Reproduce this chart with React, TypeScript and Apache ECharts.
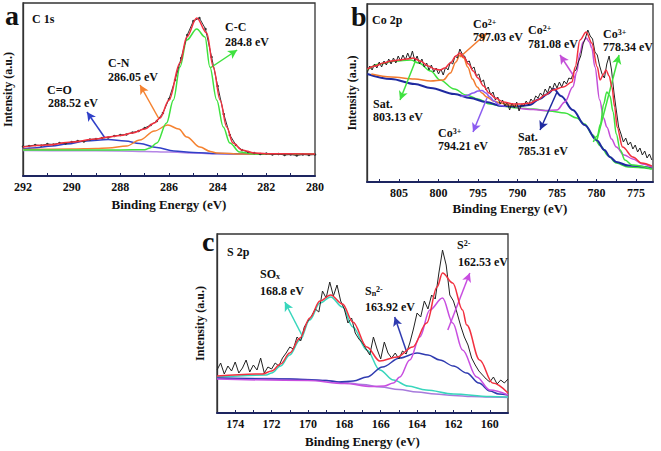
import React, { useEffect, useRef } from 'react';
import * as echarts from 'echarts';

const FONT = "'Liberation Serif', 'Times New Roman', serif";

// ---------- axis ticks ----------
const aLabelVals = [280, 282, 284, 286, 288, 290, 292];
const aTickVals = [281, 282, 283, 284, 285, 286, 287, 288, 289, 290, 291];
const bLabelVals = [775, 780, 785, 790, 795, 800, 805];
const bTickVals = [775, 777.5, 780, 782.5, 785, 787.5, 790, 792.5, 795, 797.5, 800, 802.5, 805, 807.5];
const cLabelVals = [160, 162, 164, 166, 168, 170, 172, 174];
const cTickVals = [160, 161, 162, 163, 164, 165, 166, 167, 168, 169, 170, 171, 172, 173, 174];

// ---------- panel a : C 1s ----------
const aRaw: number[][] = [[292,29.5],[291.75,30],[291.5,31],[291.25,30.5],[291,32],[290.75,31.5],[290.5,33],[290.25,32.5],[290,34],[289.75,35],[289.5,34.5],[289.25,36.5],[289,37],[288.75,38],[288.5,38.5],[288.25,40],[288,41],[287.75,41.5],[287.5,43.5],[287.25,45],[287,48],[286.75,51],[286.5,55],[286.25,63],[286,77],[285.75,96],[285.5,118],[285.25,141],[285,155],[284.75,158],[284.5,147],[284.25,119],[284,90],[283.75,62],[283.5,41],[283.25,31],[283,26],[282.75,24],[282.5,23],[282.25,22],[282,22.5],[281.75,21.5],[281.5,22],[281.25,21],[281,21.5],[280.75,20.5],[280.5,21.5],[280.25,21],[280,21.5]];
const aEnvelope: number[][] = [[292,29],[291,31],[290,34],[289,37],[288.5,39],[288,40.5],[287.5,43],[287,47],[286.6,53],[286.37,58],[286,76],[285.55,113],[285.27,139],[284.86,158],[284.45,143],[284.18,109],[283.9,76],[283.63,49],[283.37,33],[283,26],[282.5,23],[282,22.3],[280,22]];
const aCC: number[][] = [[292,26],[288,26],[287,26.3],[286.78,28],[286.5,33],[286.1,53],[285.82,76],[285.55,109],[285.27,136],[284.86,147],[284.52,139],[284.32,109],[284.04,76],[283.77,49],[283.5,33],[283.1,24],[282.5,22],[280,21.8]];
const aCN: number[][] = [[292,26.5],[290,27],[289,27.5],[288.5,28],[287.74,30],[287.2,36],[286.6,45],[286.05,51],[285.6,47],[285.27,39],[284.73,29],[284.3,24.5],[284.04,23],[283,22],[280,21.8]];
const aCO: number[][] = [[292,27],[291.6,28],[290.8,30],[290.2,32],[289.4,35],[288.5,36.5],[287.8,35],[287.2,32.5],[286.5,28.5],[285.8,25],[285,23.5],[284,22.5],[282,22],[280,21.8]];
const aBackground: number[][] = [[292,25.5],[290,25.3],[288,25],[287,24.6],[286,24],[285,23],[284,22.2],[283,21.9],[280,21.7]];
const aArrows = [
  { from: [288.63, 38], to: [289.37, 64] },
  { from: [286.41, 57], to: [287.19, 91] },
  { from: [284.31, 108], to: [283.2, 126] },
];

// ---------- panel b : Co 2p ----------
const bRaw: number[][] = [[809.0,110],[808.7,116],[808.4,112],[808.1,118],[807.8,114],[807.5,120],[807.2,115],[806.9,121],[806.6,117],[806.3,123],[806.0,118],[805.7,124],[805.4,119],[805.1,126],[804.8,121],[804.5,127],[804.2,122],[803.9,129],[803.6,123],[803.3,131],[803.0,121],[802.7,126],[802.4,118],[802.1,123],[801.8,115],[801.5,119],[801.2,112],[800.9,117],[800.6,110],[800.3,114],[800.0,108],[799.7,113],[799.4,107],[799.1,115],[798.8,112],[798.5,120],[798.2,118],[797.9,126],[797.6,124],[797.3,133],[797.0,128],[796.7,126],[796.4,120],[796.1,121],[795.8,113],[795.5,115],[795.2,106],[794.9,108],[794.6,100],[794.3,102],[794.0,92],[793.7,95],[793.4,87],[793.1,90],[792.8,82],[792.5,85],[792.2,78],[791.9,82],[791.6,76],[791.3,80],[791.0,72],[790.7,79],[790.4,74],[790.1,80],[789.8,71],[789.5,78],[789.2,76],[788.9,81],[788.6,77],[788.3,83],[788.0,80],[787.7,86],[787.4,84],[787.1,89],[786.8,86],[786.5,93],[786.2,89],[785.9,96],[785.6,92],[785.3,99],[785.0,94],[784.7,100],[784.4,95],[784.1,101],[783.8,98],[783.5,104],[783.2,103],[782.9,110],[782.6,112],[782.3,120],[782.0,126],[781.7,138],[781.4,144],[781.1,152],[780.8,146],[780.5,143],[780.2,130],[779.9,127],[779.6,116],[779.3,108],[779.0,104],[778.7,118],[778.4,126],[778.1,112],[777.8,90],[777.5,72],[777.2,55],[776.9,48],[776.6,40],[776.3,44],[776.0,37],[775.7,40],[775.4,33],[775.1,37],[774.8,30],[774.5,34],[774.2,27],[773.9,31],[773.6,24],[773.3,28],[773.0,22]];
const bEnvelope: number[][] = [[809,113],[808,116],[807,119],[806,121],[805,122],[804,123],[803.2,124],[802.3,121],[801.3,116],[800.5,113],[799.8,112],[799.2,114],[798.5,119],[797.8,126],[797.3,129],[796.8,125],[796.2,118],[795.6,111],[795,104],[794.3,96],[793.6,89],[792.8,84],[791.8,80],[790.5,78],[789.5,78],[788.4,79],[787.5,82],[786.5,87],[785.5,92],[784.2,95],[783.1,100],[782.7,115],[782.1,142],[781.3,150],[780.6,139],[779.9,115],[779.55,102],[779.1,108],[778.8,112],[778.4,106],[778.05,95],[777.7,75],[777.4,55],[776.7,35],[775.4,25],[774.3,19],[773,16]];
const bSat785: number[][] = [[809,108],[806,103],[803,98],[801,94],[798,88],[796,84],[794,80],[792,76],[790,75.5],[788.5,77],[787.2,83],[786.2,88],[785.4,93],[784.5,86],[783,72],[781.5,57],[780,42],[779,32],[778.3,25],[777.5,20],[776,16.5],[773,14]];
const bSat803: number[][] = [[809,112],[807.5,118],[805.5,121],[803.5,122],[802.5,119],[801,111],[799.8,102],[798,93],[796.5,87],[795,83],[793.5,78],[792,76],[790,74],[788,73],[786,71],[784,69],[782.5,64],[781.5,58],[780.5,47],[779.5,36],[778.5,26],[777.5,19],[776,15],[773,13]];
const bCo3_778: number[][] = [[780.4,40],[779.9,46],[779.5,58],[779.1,78],[778.7,90],[778.3,86],[777.9,70],[777.5,48],[777.0,32],[776.4,22],[775.5,17],[773,13]];
const bCo2_797: number[][] = [[808.5,108],[806,105],[803,103],[801,101],[799.4,102],[798.5,109],[797.8,120],[797.3,127],[796.8,124],[796.3,115],[795.7,103],[795.1,95],[794.5,89],[793.9,85],[793,81],[792.2,79],[791,77],[790,76]];
const bCo3_794: number[][] = [[797.2,85.5],[796.4,86.5],[795.6,89],[795,91],[794.5,91.5],[794,89],[793.5,85],[793,81],[792.2,76.5],[791.5,76]];
const bCo2_781: number[][] = [[790,74],[788,72.5],[786.5,71.5],[785,72],[784,80],[783,95],[782.5,110],[782.1,129],[781.7,140],[781.3,144],[780.9,140],[780.6,134],[780.2,115],[779.6,82],[779.1,64],[778.7,55],[778.1,43],[777.5,35],[776.5,27],[775.4,23],[774.2,18],[773,15]];
const bArrows = [
  { from: [802.97, 120], to: [804.87, 82] },
  { from: [797.28, 125], to: [793.86, 149] },
  { from: [793.86, 84], to: [795.63, 50] },
  { from: [782.72, 104], to: [784.62, 127] },
  { from: [785.0, 90], to: [787.15, 52] },
  { from: [779.94, 42], to: [777.15, 127] },
];

// ---------- panel c : S 2p ----------
const cRaw: number[][] = [[175.0,43],[174.8,50],[174.6,39],[174.4,47],[174.2,42],[174.0,51],[173.8,40],[173.6,45],[173.4,53],[173.2,41],[173.0,48],[172.8,43],[172.6,55],[172.4,40],[172.2,46],[172.0,44],[171.8,50],[171.6,47],[171.4,55],[171.2,60],[171.0,66],[170.8,64],[170.6,76],[170.4,72],[170.2,86],[170.0,92],[169.8,97],[169.6,104],[169.4,101],[169.2,122],[169.0,115],[168.8,131],[168.6,117],[168.4,128],[168.2,112],[168.0,104],[167.8,90],[167.6,95],[167.4,80],[167.2,74],[167.0,70],[166.8,64],[166.6,58],[166.4,76],[166.2,64],[166.0,54],[165.8,71],[165.6,60],[165.4,55],[165.2,60],[165.0,54],[164.8,62],[164.6,59],[164.4,70],[164.2,84],[164.0,100],[163.8,96],[163.6,112],[163.4,104],[163.2,118],[163.0,114],[162.8,140],[162.6,163],[162.4,148],[162.2,118],[162.0,112],[161.8,100],[161.6,87],[161.4,76],[161.2,68],[161.0,55],[160.8,48],[160.6,42],[160.4,38],[160.2,34],[160.0,31],[159.8,36],[159.6,29],[159.4,33],[159.2,30],[159.0,34]];
const cEnvelope: number[][] = [[175,37],[172.5,39],[172,42],[171.5,49],[171,60],[170.44,75],[169.9,95],[169.34,112],[168.75,118],[168.1,109],[167.53,91],[166.76,66],[166.05,52],[165.1,56],[164.24,66],[163.47,90],[162.9,126],[162.6,140],[162.04,130],[161.5,103],[161.27,88],[160.56,53],[159.84,30],[159,20]];
const cSOx: number[][] = [[175,36],[172.3,38],[172,40],[171.5,47],[171,58],[170.44,73],[169.9,93],[169.34,110],[168.75,116],[168.1,106],[167.53,86],[166.76,63],[166.05,43],[165.3,33],[164.5,27],[163.5,23],[162,19],[160,16.5],[159,16]];
const cSn: number[][] = [[175,35],[171,34],[169,32.5],[168.3,31],[167.5,32],[166.76,36],[165.9,46],[164.95,55],[164.0,60],[163.4,58],[162.75,53],[162,47],[161.27,40],[160.6,30],[160,22],[159.5,19],[159,18]];
const cS2: number[][] = [[175,34],[170,32.5],[168,29.5],[166.5,26.5],[165.8,27],[165.3,30],[164.95,36],[164.4,53],[163.85,76],[163.3,103],[162.6,115],[162.04,90],[161.5,63],[160.72,36],[160.0,23],[159,18]];
const cBackground: number[][] = [[175,35],[172,34.5],[170,33.5],[169,32.5],[168,30.5],[167,28.5],[166,26],[165,23.5],[164,21],[163,19],[162,17.5],[161,16.5],[160,16],[159,15.5]];
const cArrows = [
  { from: [170.28, 76], to: [171.27, 111] },
  { from: [164.57, 61], to: [165.23, 96] },
  { from: [162.31, 83], to: [161.1, 140] },
];

// ---------- texts ----------
const panelLetters = ['a', 'b', 'c'];
const panelTitles = ['C 1s', 'Co 2p', 'S 2p'];
const aNotes = [['C=O', '288.52 eV'], ['C-N', '286.05 eV'], ['C-C', '284.8 eV']];
const bNotes = [['{n|Co}{sup|2+}', '797.03 eV'], ['{n|Co}{sup|2+}', '781.08 eV'], ['{n|Co}{sup|3+}', '778.34 eV'], ['Sat.', '803.13 eV'], ['{n|Co}{sup|3+}', '794.21 eV'], ['Sat.', '785.31 eV']];
const cNotes = [['{n|SO}{sub|x}', '168.8 eV'], ['{n|S}{sub|n}{sup|2-}', '163.92 eV'], ['{n|S}{sup|2-}', '162.53 eV']];

const RICH = {
  n: { fontSize: 12, fontWeight: 'bold', fontFamily: FONT, fill: '#111' },
  sup: { fontSize: 8, fontWeight: 'bold', fontFamily: FONT, fill: '#111', verticalAlign: 'top' },
  sub: { fontSize: 8, fontWeight: 'bold', fontFamily: FONT, fill: '#111', verticalAlign: 'bottom' },
};

function txt(text: string, x: number, y: number, size = 12) {
  return {
    type: 'text', x, y, silent: true, z: 100,
    style: {
      text, fill: '#111', font: `bold ${size}px ${FONT}`,
      fontSize: size, fontWeight: 'bold', fontFamily: FONT,
      align: 'left', verticalAlign: 'middle', textAlign: 'left', textVerticalAlign: 'middle',
      rich: RICH,
    },
  };
}

function curve(data: number[][], color: string, idx: number, z: number, width = 1.5, extra: any = {}) {
  return {
    type: 'line', xAxisIndex: idx, yAxisIndex: idx, data, z,
    symbol: 'none', showSymbol: false, smooth: 0.35, smoothMonotone: 'x',
    lineStyle: { color, width }, itemStyle: { color }, silent: true,
    ...extra,
  };
}

function arrowSeries(arrows: { from: number[]; to: number[] }[], colors: string[], idx: number) {
  return {
    type: 'line', xAxisIndex: idx, yAxisIndex: idx, data: [], z: 20, silent: true,
    markLine: {
      silent: true, symbol: ['none', 'arrow'], symbolSize: [7, 9], animation: false,
      label: { show: false },
      data: arrows.map((a, i) => [
        { coord: a.from, lineStyle: { color: colors[i], width: 1.5, type: 'solid' }, itemStyle: { color: colors[i] } },
        { coord: a.to },
      ]),
    },
  };
}

function xAxis(idx: number, min: number, max: number, labels: number[], ticks: number[], nameGap: number) {
  return {
    gridIndex: idx, type: 'value', inverse: true, min, max,
    axisLine: { show: true, lineStyle: { color: '#1d2560', width: 1.8 } },
    axisTick: { show: true, inside: true, length: 3, customValues: ticks, lineStyle: { color: '#1d2560', width: 1 } },
    axisLabel: { customValues: labels, fontFamily: FONT, fontWeight: 'bold', fontSize: 12, color: '#111', margin: 5 },
    splitLine: { show: false },
    name: 'Binding Energy (eV)', nameLocation: 'middle', nameGap,
    nameTextStyle: { fontFamily: FONT, fontWeight: 'bold', fontSize: 13, color: '#111' },
  };
}

function yAxis(idx: number, max: number, nameGap: number) {
  return {
    gridIndex: idx, type: 'value', min: 0, max,
    axisLine: { show: true, lineStyle: { color: '#333', width: 1.3 } },
    axisTick: { show: false }, axisLabel: { show: false }, splitLine: { show: false },
    name: 'Intensity (a.u.)', nameLocation: 'middle', nameGap,
    nameTextStyle: { fontFamily: FONT, fontWeight: 'bold', fontSize: 12, color: '#111' },
  };
}

const RED = '#f2303f';
const option: any = {
  animation: false,
  backgroundColor: '#ffffff',
  grid: [
    { left: 23, top: 3, width: 292, height: 173, show: true, borderColor: '#333', borderWidth: 1.3 },
    { left: 367, top: 4, width: 286, height: 178, show: true, borderColor: '#333', borderWidth: 1.3 },
    { left: 217, top: 234, width: 291, height: 179, show: true, borderColor: '#333', borderWidth: 1.3 },
  ],
  xAxis: [
    xAxis(0, 280, 292, aLabelVals, aTickVals, 22),
    xAxis(1, 772.85, 809.05, bLabelVals, bTickVals, 20),
    xAxis(2, 159, 175, cLabelVals, cTickVals, 22),
  ],
  yAxis: [yAxis(0, 173, 9), yAxis(1, 178, 9), yAxis(2, 179, 11)],
  series: [
    // panel a
    curve(aBackground, '#b585e6', 0, 2),
    curve(aCO, '#3040c8', 0, 3),
    curve(aCN, '#f58230', 0, 3),
    curve(aCC, '#3fe23f', 0, 3),
    { ...curve(aRaw, '#333', 0, 4, 1, { showSymbol: true, symbol: 'circle', symbolSize: 2.5, smooth: false }) },
    curve(aEnvelope, RED, 0, 5),
    arrowSeries(aArrows, ['#3040c8', '#f58230', '#3fe23f'], 0),
    // panel b
    curve(bSat803, '#3fe23f', 1, 3),
    curve(bSat785, '#1f2aa0', 1, 3, 2),
    curve(bCo2_797, '#f27b2e', 1, 3),
    curve(bCo3_794, '#8b5cf0', 1, 3),
    curve(bCo2_781, '#c44fd8', 1, 3),
    curve(bCo3_778, '#3fe23f', 1, 3),
    curve(bRaw, '#222', 1, 4, 1, { smooth: false }),
    curve(bEnvelope, RED, 1, 5),
    arrowSeries(bArrows, ['#3fe23f', '#f27b2e', '#8b5cf0', '#c44fd8', '#1f2aa0', '#3fe23f'], 1),
    // panel c
    curve(cBackground, '#a77bdc', 2, 2),
    curve(cSOx, '#38d6bc', 2, 3),
    curve(cSn, '#2f3bb0', 2, 3),
    curve(cS2, '#c84ee0', 2, 3),
    curve(cRaw, '#222', 2, 4, 1, { smooth: false }),
    curve(cEnvelope, RED, 2, 5),
    arrowSeries(cArrows, ['#38d6bc', '#2f3bb0', '#c84ee0'], 2),
  ],
  graphic: [
    txt(panelLetters[0], 5, 15, 28),
    txt(panelLetters[1], 351, 16, 28),
    txt(panelLetters[2], 202, 241, 28),
    txt(panelTitles[0], 32, 19),
    txt(panelTitles[1], 372, 20),
    txt(panelTitles[2], 227, 252),
    txt(aNotes[0][0], 47, 89.5), txt(aNotes[0][1], 48, 102.5),
    txt(aNotes[1][0], 108, 62.5), txt(aNotes[1][1], 108, 77),
    txt(aNotes[2][0], 225, 27), txt(aNotes[2][1], 225, 42),
    txt(bNotes[0][0], 473, 24), txt(bNotes[0][1], 473, 37),
    txt(bNotes[1][0], 528, 30), txt(bNotes[1][1], 528, 44),
    txt(bNotes[2][0], 603, 34), txt(bNotes[2][1], 603, 47),
    txt(bNotes[3][0], 373, 104), txt(bNotes[3][1], 373, 117),
    txt(bNotes[4][0], 438, 133), txt(bNotes[4][1], 438, 146),
    txt(bNotes[5][0], 518, 137), txt(bNotes[5][1], 518, 151),
    txt(cNotes[0][0], 260, 274), txt(cNotes[0][1], 260, 291),
    txt(cNotes[1][0], 365, 291), txt(cNotes[1][1], 365, 307),
    txt(cNotes[2][0], 457, 245), txt(cNotes[2][1], 458, 262),
  ],
};

export default function App() {
  const ref = useRef<HTMLDivElement>(null);
  useEffect(() => {
    document.body.style.margin = '0';
    const chart = echarts.init(ref.current!, null, { renderer: 'svg' });
    chart.setOption(option);
    return () => chart.dispose();
  }, []);
  return <div ref={ref} style={{ width: 661, height: 451 }} />;
}
